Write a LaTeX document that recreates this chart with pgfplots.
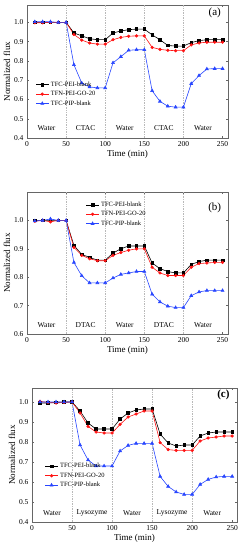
\documentclass[border=0pt]{standalone}
\usepackage{pgfplots}
\pgfplotsset{compat=1.18}
\usepackage{fontspec}
\setmainfont{Liberation Serif}
\definecolor{pblue}{RGB}{40,70,255}
\definecolor{pred}{RGB}{255,20,20}
\tikzset{
  blk/.style={black, mark=square*},
  rd/.style={pred, mark=*},
  bl/.style={pblue, mark=triangle*, mark size=1.7pt},
  vl/.style={gray!55, densely dotted, line width=0.7pt},
  reg/.style={font=\fontsize{7.5}{8}\selectfont},
}
\pgfplotsset{
  panel/.style={
    scale only axis, width=201pt,
    xmin=0, xmax=257, xtick={0,50,...,250},
    axis line style={gray!80!black},
    tick style={gray!80!black, thin}, tick align=inside,
    major tick length=2pt,
    ticklabel style={font=\fontsize{7.5}{8}\selectfont},
    /pgf/number format/assume math mode=true,
    /pgf/number format/fixed, /pgf/number format/fixed zerofill, /pgf/number format/precision=1,
    xticklabel style={/pgf/number format/precision=0, /pgf/number format/fixed zerofill=false},
    xlabel={Time (min)}, ylabel={Normalized flux},
    label style={font=\fontsize{9}{10}\selectfont},
    xlabel style={yshift=3pt}, ylabel style={yshift=-3pt},
    legend style={draw=none, fill=none, font=\fontsize{6.5}{7}\selectfont, row sep=-0.5pt, inner sep=0.5pt},
    legend cell align=left,
    legend image code/.code={
      \draw[mark repeat=2,mark phase=2] plot coordinates {(0cm,0cm) (0.22cm,0cm) (0.44cm,0cm)};},
    every axis plot/.append style={line width=0.6pt, mark size=1.3pt},
  },
}
\begin{document}
\begin{tikzpicture}
\useasboundingbox (0,0) rectangle (240pt,-550pt);
% (a)
\begin{axis}[panel, height=133pt, at={(27pt,-5pt)}, anchor=north west,
  ymin=0.4, ymax=1.09, ytick={0.4,0.5,...,1.0},
  legend style={at={(0.04,0.33)}, anchor=west}]
\addplot[blk] coordinates {(10,1.0)(20,1.0)(30,1.0)(40,1.0)(50,1.0)(60,0.945)(70,0.93)(80,0.915)(90,0.91)(100,0.91)(110,0.945)(120,0.955)(130,0.962)(140,0.965)(150,0.965)(160,0.935)(170,0.91)(180,0.88)(190,0.877)(200,0.877)(210,0.895)(220,0.905)(230,0.91)(240,0.91)(250,0.91)};
\addplot[rd] coordinates {(10,0.998)(20,0.998)(30,1.0)(40,1.0)(50,1.0)(60,0.937)(70,0.908)(80,0.893)(90,0.887)(100,0.887)(110,0.91)(120,0.922)(130,0.928)(140,0.93)(150,0.93)(160,0.87)(170,0.86)(180,0.855)(190,0.853)(200,0.853)(210,0.883)(220,0.893)(230,0.897)(240,0.897)(250,0.897)};
\addplot[bl] coordinates {(10,1.003)(20,1.003)(30,1.003)(40,1.0)(50,1.0)(60,0.78)(70,0.685)(80,0.665)(90,0.66)(100,0.66)(110,0.79)(120,0.822)(130,0.855)(140,0.858)(150,0.858)(160,0.645)(170,0.59)(180,0.565)(190,0.56)(200,0.56)(210,0.682)(220,0.724)(230,0.758)(240,0.76)(250,0.76)};
\legend{TFC-PEI-blank,TFN-PEI-GO-20,TFC-PIP-blank}
\draw[vl] (axis cs:50,0.4) -- (axis cs:50,1.09);
\draw[vl] (axis cs:100,0.4) -- (axis cs:100,1.09);
\draw[vl] (axis cs:150,0.4) -- (axis cs:150,1.09);
\draw[vl] (axis cs:200,0.4) -- (axis cs:200,1.09);
\node[reg] at (axis cs:25,0.45) {Water};
\node[reg] at (axis cs:75,0.45) {CTAC};
\node[reg] at (axis cs:125,0.45) {Water};
\node[reg] at (axis cs:175,0.45) {CTAC};
\node[reg] at (axis cs:225,0.45) {Water};
\node[font=\fontsize{11}{12}\selectfont] at (axis cs:240,1.05) {(a)};
\end{axis}
% (b)
\begin{axis}[panel, height=142pt, at={(27pt,-192pt)}, anchor=north west,
  ymin=0.6, ymax=1.1, ytick={0.6,0.7,...,1.0},
  legend style={at={(0.29,0.95)}, anchor=north west}]
\addplot[blk] coordinates {(10,1.0)(20,1.0)(30,1.0)(40,1.0)(50,1.0)(60,0.912)(70,0.88)(80,0.87)(90,0.86)(100,0.86)(110,0.885)(120,0.9)(130,0.91)(140,0.91)(150,0.91)(160,0.85)(170,0.83)(180,0.82)(190,0.815)(200,0.815)(210,0.845)(220,0.855)(230,0.86)(240,0.86)(250,0.86)};
\addplot[rd] coordinates {(10,0.997)(20,1.0)(30,0.995)(40,1.0)(50,1.0)(60,0.905)(70,0.877)(80,0.865)(90,0.858)(100,0.858)(110,0.877)(120,0.887)(130,0.895)(140,0.9)(150,0.9)(160,0.835)(170,0.815)(180,0.806)(190,0.806)(200,0.806)(210,0.835)(220,0.848)(230,0.85)(240,0.852)(250,0.852)};
\addplot[bl] coordinates {(10,0.998)(20,1.0)(30,1.005)(40,1.0)(50,1.0)(60,0.852)(70,0.805)(80,0.78)(90,0.78)(100,0.78)(110,0.797)(120,0.81)(130,0.815)(140,0.82)(150,0.82)(160,0.74)(170,0.713)(180,0.698)(190,0.693)(200,0.693)(210,0.735)(220,0.748)(230,0.753)(240,0.753)(250,0.753)};
\legend{TFC-PEI-blank,TFN-PEI-GO-20,TFC-PIP-blank}
\draw[vl] (axis cs:50,0.6) -- (axis cs:50,1.1);
\draw[vl] (axis cs:100,0.6) -- (axis cs:100,1.1);
\draw[vl] (axis cs:150,0.6) -- (axis cs:150,1.1);
\draw[vl] (axis cs:200,0.6) -- (axis cs:200,1.1);
\node[reg] at (axis cs:25,0.633) {Water};
\node[reg] at (axis cs:75,0.633) {DTAC};
\node[reg] at (axis cs:125,0.633) {Water};
\node[reg] at (axis cs:175,0.633) {DTAC};
\node[reg] at (axis cs:225,0.633) {Water};
\node[font=\fontsize{11}{12}\selectfont] at (axis cs:240,1.045) {(b)};
\end{axis}
% (c)
\begin{axis}[panel, width=205pt, height=134pt, at={(32pt,-388pt)}, anchor=north west,
  xmax=256, ymin=0.4, ymax=1.07, ytick={0.4,0.5,...,1.0},
  legend style={at={(0.06,0.345)}, anchor=west}]
\addplot[blk] coordinates {(10,0.995)(20,0.995)(30,0.998)(40,1.0)(50,1.0)(60,0.955)(70,0.895)(80,0.865)(90,0.865)(100,0.865)(110,0.915)(120,0.945)(130,0.96)(140,0.965)(150,0.965)(160,0.84)(170,0.795)(180,0.78)(190,0.785)(200,0.785)(210,0.83)(220,0.845)(230,0.85)(240,0.85)(250,0.85)};
\addplot[rd] coordinates {(10,1.003)(20,0.998)(30,0.995)(40,0.998)(50,1.0)(60,0.945)(70,0.878)(80,0.85)(90,0.845)(100,0.845)(110,0.888)(120,0.925)(130,0.94)(140,0.955)(150,0.955)(160,0.797)(170,0.762)(180,0.758)(190,0.758)(200,0.758)(210,0.805)(220,0.82)(230,0.825)(240,0.83)(250,0.83)};
\addplot[bl] coordinates {(10,1.0)(20,1.0)(30,1.0)(40,1.0)(50,1.0)(60,0.785)(70,0.71)(80,0.68)(90,0.68)(100,0.68)(110,0.755)(120,0.783)(130,0.793)(140,0.793)(150,0.793)(160,0.628)(170,0.578)(180,0.55)(190,0.538)(200,0.538)(210,0.588)(220,0.613)(230,0.625)(240,0.628)(250,0.628)};
\legend{TFC-PEI-blank,TFN-PEI-GO-20,TFC-PIP-blank}
\draw[vl] (axis cs:50,0.4) -- (axis cs:50,1.07);
\draw[vl] (axis cs:100,0.4) -- (axis cs:100,1.07);
\draw[vl] (axis cs:150,0.4) -- (axis cs:150,1.07);
\draw[vl] (axis cs:200,0.4) -- (axis cs:200,1.07);
\node[reg] at (axis cs:25,0.445) {Water};
\node[reg] at (axis cs:75,0.445) {Lysozyme};
\node[reg] at (axis cs:125,0.445) {Water};
\node[reg] at (axis cs:175,0.445) {Lysozyme};
\node[reg] at (axis cs:225,0.445) {Water};
\node[font=\bfseries\fontsize{11}{12}\selectfont] at (axis cs:239,1.035) {(c)};
\end{axis}
\end{tikzpicture}
\end{document}
